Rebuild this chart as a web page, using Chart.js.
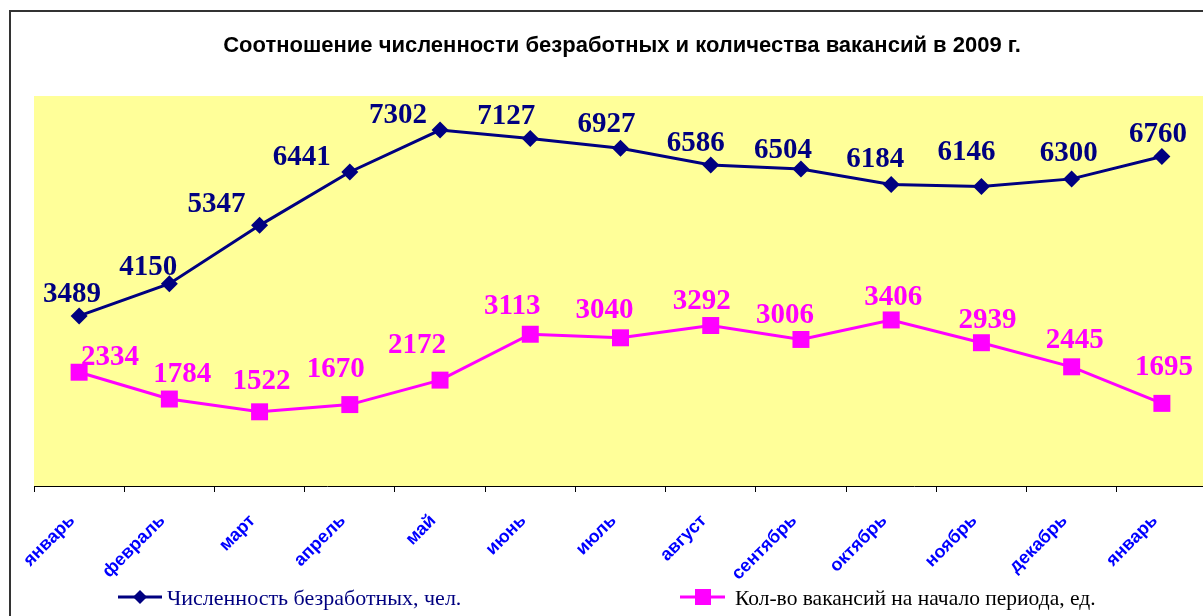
<!DOCTYPE html>
<html>
<head>
<meta charset="utf-8">
<script src="https://cdn.jsdelivr.net/npm/chart.js@4"></script>
<style>
    html, body { margin: 0; padding: 0; background: #fff; overflow: hidden; }
    #wrap { width: 1203px; height: 616px; overflow: hidden; }
</style>
</head>
<body>
<div id="wrap"><canvas id="chartVagas" width="1219" height="616"></canvas></div>
<script>
// dados
const meses = ['январь', 'февраль', 'март', 'апрель', 'май', 'июнь', 'июль', 'август', 'сентябрь', 'октябрь', 'ноябрь', 'декабрь', 'январь'];
const desempregados = [3489, 4150, 5347, 6441, 7302, 7127, 6927, 6586, 6504, 6184, 6146, 6300, 6760];
const vagas = [2334, 1784, 1522, 1670, 2172, 3113, 3040, 3292, 3006, 3406, 2939, 2445, 1695];
const titulo = 'Соотношение численности безработных и количества вакансий в 2009 г.';
const nomeSerie1 = 'Численность безработных, чел.';
const nomeSerie2 = 'Кол-во вакансий на начало периода, ед.';

// deslocamento dos rótulos (posição do texto em relação ao ponto)
const offsetsAzul = [[-7,-24],[-21,-19],[-43,-23],[-48,-17],[-42,-17],[-24,-25],[-14,-26],[-15,-24],[-18,-21],[-16,-28],[-15,-36],[-3,-28],[-4,-24]];
const offsetsRosa = [[31,-17],[13,-27],[2,-33],[-14,-38],[-23,-37],[-18,-30],[-16,-30],[-9,-27],[-16,-26],[2,-25],[6,-25],[3,-29],[2,-38]];

const AZUL = '#000080';
const ROSA = '#FF00FF';

const molduraPlugin = {
    id: 'moldura',
    beforeDraw: (chart) => {
        const { ctx, chartArea } = chart;
        ctx.save();
        ctx.fillStyle = '#FFFF99';
        ctx.fillRect(chartArea.left, chartArea.top, chartArea.right - chartArea.left, chartArea.bottom - chartArea.top);
        ctx.strokeStyle = '#333';
        ctx.lineWidth = 2;
        ctx.strokeRect(10, 11, 1400, 800);
        // titulo
        ctx.fillStyle = '#000';
        ctx.font = 'bold 22px "Liberation Sans", Arial, sans-serif';
        ctx.textAlign = 'center';
        ctx.textBaseline = 'alphabetic';
        ctx.fillText(titulo, 622, 52);
        ctx.restore();
    }
};

// rótulos do eixo x, girados 45 graus
const mesesPlugin = {
    id: 'meses',
    afterDraw: (chart) => {
        const ctx = chart.ctx;
        const xs = chart.scales.x;
        ctx.save();
        ctx.font = 'bold 18px "Liberation Sans", Arial, sans-serif';
        ctx.fillStyle = '#0000FF';
        ctx.textAlign = 'right';
        ctx.textBaseline = 'middle';
        meses.forEach((m, i) => {
            const x = xs.getPixelForValue(i);
            ctx.save();
            ctx.translate(x - 7, xs.top + 32);
            ctx.rotate(-Math.PI / 4);
            ctx.fillText(m, 0, 0);
            ctx.restore();
        });
        ctx.restore();
    }
};

const rotulosPlugin = {
    id: 'rotulos',
    afterDatasetsDraw: (chart) => {
        const ctx = chart.ctx;
        const offs = [offsetsAzul, offsetsRosa];
        ctx.save();
        ctx.font = 'bold 29px "Liberation Serif", "Times New Roman", serif';
        ctx.textAlign = 'center';
        ctx.textBaseline = 'alphabetic';
        chart.data.datasets.forEach((ds, i) => {
            const meta = chart.getDatasetMeta(i);
            ctx.fillStyle = ds.borderColor;
            meta.data.forEach((pt, j) => {
                const [dx, dy] = offs[i][j];
                ctx.fillText(String(ds.data[j]), pt.x + dx, pt.y + dy + 10);
            });
        });
        ctx.restore();
    }
};

const legendaPlugin = {
    id: 'legenda',
    afterDraw: (chart) => {
        const ctx = chart.ctx;
        ctx.save();
        const y = 597;
        // serie 1
        ctx.strokeStyle = AZUL;
        ctx.lineWidth = 3;
        ctx.beginPath(); ctx.moveTo(118, y); ctx.lineTo(162, y); ctx.stroke();
        ctx.fillStyle = AZUL;
        ctx.beginPath();
        ctx.moveTo(140, y - 7); ctx.lineTo(147, y); ctx.lineTo(140, y + 7); ctx.lineTo(133, y);
        ctx.closePath(); ctx.fill();
        // serie 2
        ctx.strokeStyle = ROSA;
        ctx.beginPath(); ctx.moveTo(680, y); ctx.lineTo(725, y); ctx.stroke();
        ctx.fillStyle = ROSA;
        ctx.fillRect(695, y - 8, 16, 16);

        ctx.textAlign = 'left';
        ctx.textBaseline = 'alphabetic';
        ctx.font = '22px "Liberation Serif", "Times New Roman", serif';
        ctx.fillStyle = AZUL;
        ctx.fillText(nomeSerie1, 167, 605);
        ctx.font = '21.5px "Liberation Serif", "Times New Roman", serif';
        ctx.fillStyle = '#000';
        ctx.fillText(nomeSerie2, 735, 605);
        ctx.restore();
    }
};

const ctx = document.getElementById('chartVagas');
new Chart(ctx, {
    type: 'line',
    data: {
        labels: meses,
        datasets: [
            { label: nomeSerie1, data: desempregados, borderColor: AZUL, backgroundColor: AZUL, borderWidth: 3,
              pointStyle: 'rectRot', pointRadius: 8.5, pointBorderWidth: 0, tension: 0 },
            { label: nomeSerie2, data: vagas, borderColor: ROSA, backgroundColor: ROSA, borderWidth: 3,
              pointStyle: 'rect', pointRadius: 12, pointBorderWidth: 0, tension: 0 }
        ]
    },
    options: {
        responsive: false,
        animation: false,
        devicePixelRatio: 1,
        layout: { padding: { left: 34, top: 96, right: 0, bottom: 0 } },
        plugins: { legend: { display: false }, title: { display: false }, tooltip: { enabled: false } },
        scales: {
            x: {
                offset: true,
                grid: { offset: true, drawOnChartArea: false, drawTicks: true, tickLength: 6, color: '#000', tickWidth: 1 },
                border: { display: true, color: '#000', width: 1 },
                ticks: { display: false, autoSkip: false },
                afterFit: (s) => { s.height = 130; }
            },
            y: { display: false, min: 0, max: 8000 }
        }
    },
    plugins: [molduraPlugin, rotulosPlugin, mesesPlugin, legendaPlugin]
});
</script>
</body>
</html>
